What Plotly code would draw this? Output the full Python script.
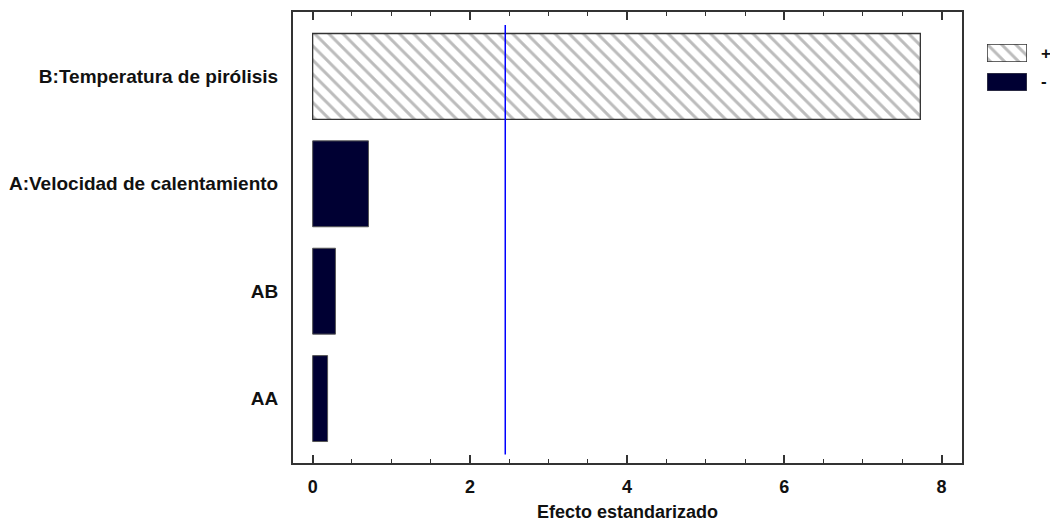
import plotly.graph_objects as go

# ---- data ----
factors = ["B:Temperatura de pirólisis", "A:Velocidad de calentamiento", "AB", "AA"]
effects = [7.73, 0.71, 0.29, 0.19]
signs = ["+", "-", "-", "-"]
critical_value = 2.45
x_ticks = [0, 2, 4, 6, 8]
legend_labels = ["+", "-"]

NAVY = "#000033"
HATCH_FG = "#7a7a7a"
EDGE = "#333333"
FONT = "Liberation Sans, Arial, sans-serif"

pos_y = [f for f, s in zip(factors, signs) if s == "+"]
pos_x = [e for e, s in zip(effects, signs) if s == "+"]
neg_y = [f for f, s in zip(factors, signs) if s == "-"]
neg_x = [e for e, s in zip(effects, signs) if s == "-"]

hatch = dict(shape="\\", fgcolor=HATCH_FG, bgcolor="white", size=10, solidity=0.3)

fig = go.Figure()
fig.add_trace(go.Bar(
    x=pos_x, y=pos_y, orientation="h", width=0.8,
    marker=dict(color="white", pattern=hatch, line=dict(color=EDGE, width=1.3)),
    showlegend=False, hoverinfo="x+y"))
fig.add_trace(go.Bar(
    x=neg_x, y=neg_y, orientation="h", width=0.8,
    marker=dict(color=NAVY, line=dict(color="#555555", width=1)),
    showlegend=False, hoverinfo="x+y"))

# legend swatches drawn on small auxiliary axes
fig.add_trace(go.Bar(x=[1], y=[0], orientation="h", width=1, xaxis="x2", yaxis="y2",
                     marker=dict(color="white", pattern=dict(shape="\\", fgcolor=HATCH_FG, bgcolor="white", size=10, solidity=0.3),
                                 line=dict(color=EDGE, width=1.5)),
                     showlegend=False, hoverinfo="skip"))
fig.add_trace(go.Bar(x=[1], y=[0], orientation="h", width=1, xaxis="x3", yaxis="y3",
                     marker=dict(color=NAVY, line=dict(color="#555555", width=1)),
                     showlegend=False, hoverinfo="skip"))

# critical value line
fig.add_shape(type="line", xref="x", yref="y", x0=critical_value, x1=critical_value,
              y0=-0.48, y1=3.52, line=dict(color="#0000ff", width=1.5))

L, R, T, B = 293, 5, 12, 62
W, H = 1050, 525
pw = W - L - R
ph = H - T - B
main_right = (962 - L) / pw
def xd(a, b):
    return [(a - L) / pw, (b - L) / pw]
def yd(top, bot):
    return [(H - B - bot) / ph, (H - B - top) / ph]

aux_axis = dict(visible=False, range=[0, 1], fixedrange=True)
fig.update_layout(
    width=W, height=H,
    margin=dict(l=L, r=R, t=T, b=B),
    paper_bgcolor="white", plot_bgcolor="white",
    barmode="overlay",
    font=dict(family=FONT, size=19, color="#111111"),
    xaxis=dict(
        domain=[0, main_right],
        range=[-0.25, 8.26], tickvals=x_ticks, ticktext=[str(v) for v in x_ticks],
        ticks="inside", ticklen=8, tickwidth=1.5, tickcolor=EDGE,
        minor=dict(ticks="inside", dtick=0.5, tick0=0, ticklen=4, tickwidth=1.2, tickcolor=EDGE),
        showline=True, linecolor=EDGE, linewidth=2, mirror="allticks",
        showgrid=False, zeroline=False,
        tickfont=dict(family=FONT, size=18, color="#111111", weight="bold"),
        ticklabelstandoff=6,
        title=dict(text="Efecto estandarizado", standoff=10,
                   font=dict(family=FONT, size=18, color="#111111", weight="bold")),
    ),
    yaxis=dict(
        categoryorder="array", categoryarray=factors,
        range=[3.6, -0.6],
        showline=True, linecolor=EDGE, linewidth=2, mirror=True,
        showgrid=False, zeroline=False, ticks="",
        tickfont=dict(family=FONT, size=19, color="#111111", weight="bold"),
        ticklabelstandoff=9,
    ),
    xaxis2=dict(domain=xd(987, 1027), anchor="y2", **aux_axis),
    yaxis2=dict(domain=yd(44, 62), anchor="x2", visible=False, range=[-0.5, 0.5], fixedrange=True),
    xaxis3=dict(domain=xd(987, 1027), anchor="y3", **aux_axis),
    yaxis3=dict(domain=yd(73, 91), anchor="x3", visible=False, range=[-0.5, 0.5], fixedrange=True),
)

for lab, top, bot in zip(legend_labels, [44, 73], [62, 91]):
    fig.add_annotation(text=lab, xref="paper", yref="paper",
                       x=(1039 - L) / pw, y=((H - B - (top + bot) / 2) / ph),
                       xanchor="left", yanchor="middle", showarrow=False,
                       font=dict(family=FONT, size=17, color="#111111", weight="bold"))

fig.write_html("out.html")
